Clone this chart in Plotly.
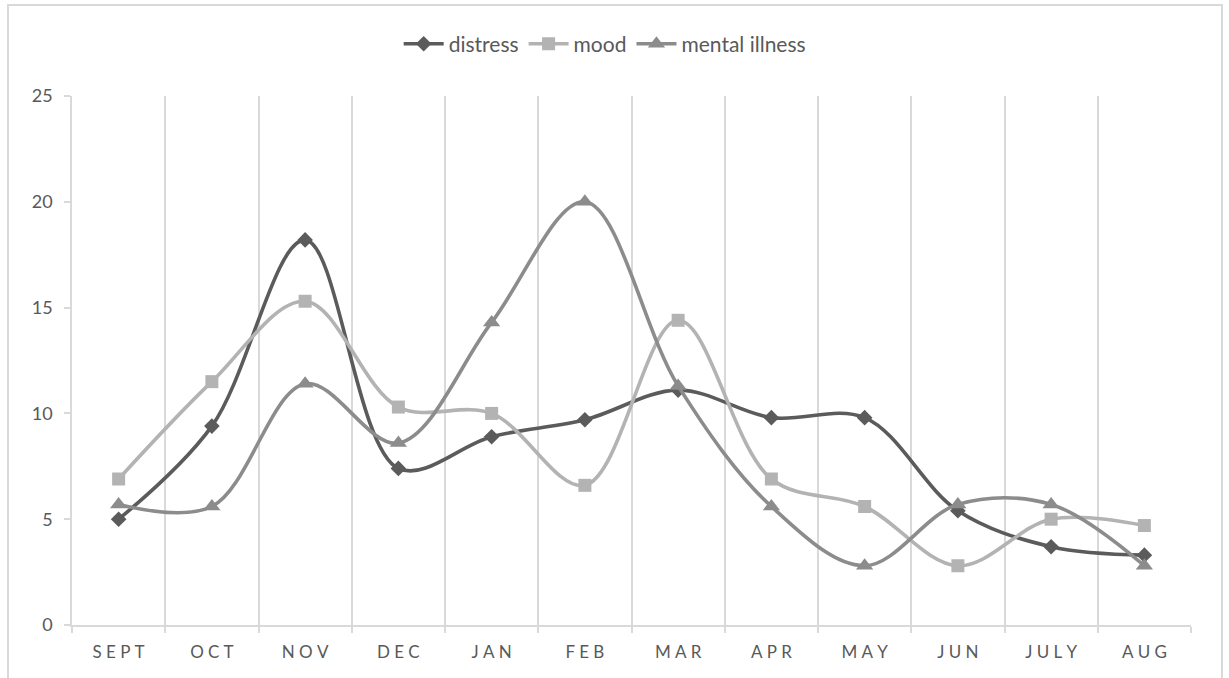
import plotly.graph_objects as go

months = ["SEPT", "OCT", "NOV", "DEC", "JAN", "FEB", "MAR", "APR", "MAY", "JUN", "JULY", "AUG"]
distress = [5.0, 9.4, 18.2, 7.4, 8.9, 9.7, 11.1, 9.8, 9.8, 5.4, 3.7, 3.3]
mood = [6.9, 11.5, 15.3, 10.3, 10.0, 6.6, 14.4, 6.9, 5.6, 2.8, 5.0, 4.7]
mental_illness = [5.7, 5.6, 11.4, 8.6, 14.3, 20.0, 11.3, 5.6, 2.8, 5.7, 5.7, 2.8]
y_ticks = [0, 5, 10, 15, 20, 25]

# spaced-out caps for the month labels
spaced = ["\u2005".join(m) for m in months]

series = [
    ("distress", distress, "#5b5b5b", "diamond", 12),
    ("mood", mood, "#b3b3b3", "square", 13),
    ("mental illness", mental_illness, "#8c8c8c", "triangle-up", 15),
]

fig = go.Figure()
for name, vals, color, symbol, msize in series:
    fig.add_trace(go.Scatter(
        x=spaced, y=vals, name=name, mode="lines+markers",
        line=dict(color=color, width=3.6, shape="spline", smoothing=1.0),
        marker=dict(symbol=symbol, size=msize, color=color, line=dict(width=0)),
    ))

font_color = "#595959"
fig.update_layout(
    width=1229, height=678,
    margin=dict(l=72, r=38, t=96, b=53),
    paper_bgcolor="white", plot_bgcolor="white",
    font=dict(family="Lato, 'Open Sans', sans-serif", color=font_color, size=18),
    showlegend=True,
    legend=dict(
        orientation="h", xref="container", x=0.492, xanchor="center",
        yref="container", y=0.935, yanchor="middle",
        font=dict(size=21, color=font_color), itemwidth=40,
        traceorder="normal",
    ),
    xaxis=dict(
        type="category", tickson="boundaries", range=[-0.5, 11.5],
        showgrid=True, gridcolor="#d9d9d9", gridwidth=1.5,
        showline=True, linecolor="#d9d9d9", linewidth=1.5,
        ticks="outside", ticklen=6, tickcolor="#d9d9d9", tickwidth=1.5,
        tickfont=dict(size=17, color=font_color),
        ticklabelstandoff=11,
        zeroline=False,
    ),
    yaxis=dict(
        range=[0, 25], tickvals=y_ticks,
        showgrid=False, zeroline=False,
        showline=True, linecolor="#d9d9d9", linewidth=1.5,
        ticks="outside", ticklen=6, tickcolor="#d9d9d9", tickwidth=1.5,
        tickfont=dict(size=18, color=font_color),
        ticklabelstandoff=8,
    ),
    shapes=[dict(
        type="rect", xref="paper", yref="paper",
        x0=-64 / 1119, x1=1 + 31 / 1119, y0=-0.2, y1=1 + 91 / 529,
        line=dict(color="#d9d9d9", width=2), fillcolor="rgba(0,0,0,0)",
        layer="below",
    )],
)

fig.write_html("out.html")
